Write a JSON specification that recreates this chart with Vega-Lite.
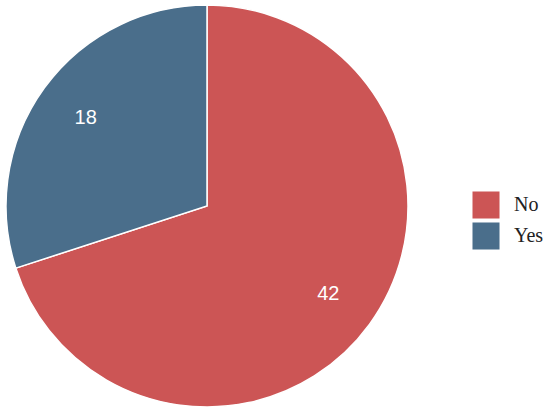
{
  "$schema": "https://vega.github.io/schema/vega-lite/v6.json",
  "width": 414,
  "height": 412,
  "padding": 0,
  "autosize": {"type": "pad"},
  "background": "white",
  "config": {"view": {"stroke": null}},
  "data": {"values": [
    {"answer": "No", "count": 42, "order": 1},
    {"answer": "Yes", "count": 18, "order": 2}
  ]},
  "encoding": {
    "theta": {"field": "count", "type": "quantitative", "stack": true},
    "order": {"field": "order", "type": "quantitative"},
    "color": {
      "field": "answer", "type": "nominal",
      "scale": {"domain": ["No", "Yes"], "range": ["#CC5555", "#4A6E8B"]},
      "legend": {
        "title": null, "orient": "none", "legendX": 472, "legendY": 191,
        "symbolType": "square", "symbolSize": 730, "symbolStrokeWidth": 0,
        "symbolOpacity": 1, "rowPadding": 3,
        "labelFont": "Liberation Serif", "labelFontSize": 20, "labelColor": "#222222",
        "labelOffset": 14
      }
    }
  },
  "layer": [
    {"mark": {"type": "arc", "outerRadius": 201, "stroke": "white", "strokeWidth": 1.5}},
    {"mark": {"type": "text", "radius": 150, "font": "Liberation Sans", "fontSize": 20},
     "encoding": {"text": {"field": "count", "type": "quantitative"}, "color": {"value": "white"}}}
  ]
}
